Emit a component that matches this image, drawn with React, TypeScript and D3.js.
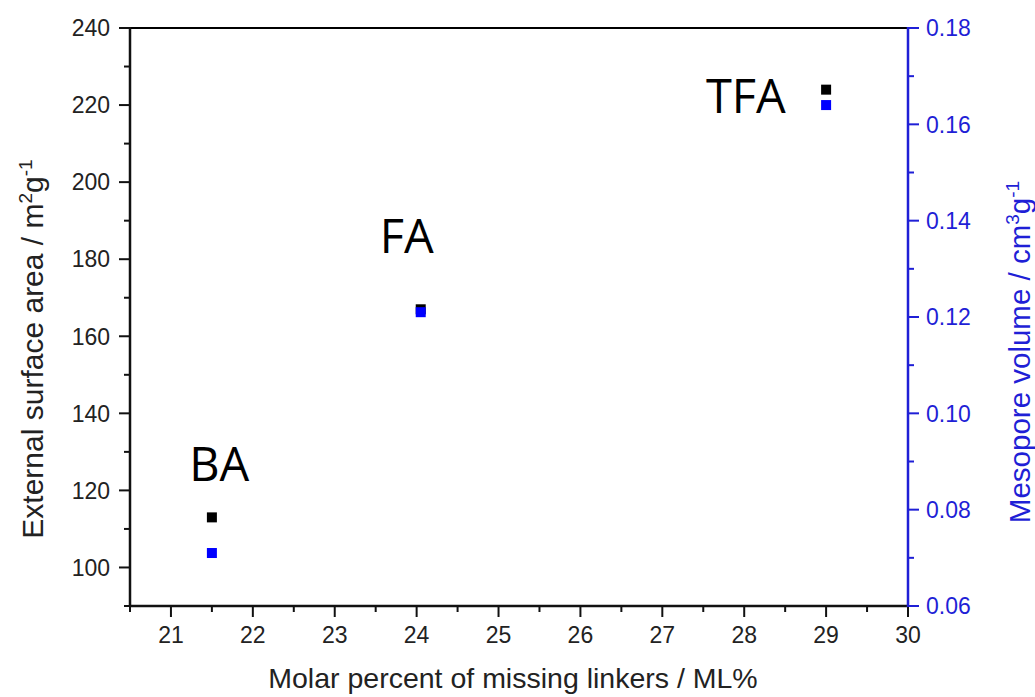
import React from "react";
import * as d3 from "d3";

const samples = ["BA", "FA", "TFA"];
const missingLinkers = [21.5, 24.05, 29.0];
const surfaceArea = [113, 167, 224];
const mesoporeVolume = [0.071, 0.121, 0.164];
const xTicks = [21, 22, 23, 24, 25, 26, 27, 28, 29, 30];
const yLeftTicks = [100, 120, 140, 160, 180, 200, 220, 240];
const yRightTicks = [0.06, 0.08, 0.1, 0.12, 0.14, 0.16, 0.18];
const labelPos = [
  { x: 21.59, y: 122.4 },
  { x: 23.88, y: 181.6 },
  { x: 28.02, y: 217.9 },
];

export default function App() {
  const W = 1035, H = 697;
  const L = 130, R = 908, T = 28, B = 606;
  const x = d3.scaleLinear().domain([20.5, 30]).range([L, R]);
  const yL = d3.scaleLinear().domain([90, 240]).range([B, T]);
  const yR = d3.scaleLinear().domain([0.06, 0.18]).range([B, T]);
  const blue = "#0000ff";
  const axisBlue = "#1f1fd6";
  const font = "'Liberation Sans', Arial, sans-serif";
  const xMinor = d3.range(20.5, 30.01, 0.5).filter((v) => Math.abs(v - Math.round(v)) > 0.1);
  const yLMinor = d3.range(90, 240, 10).filter((v) => v % 20 !== 0);
  const yRMinor = d3.range(0.07, 0.18, 0.02);
  const ms = 10;
  return (
    <svg width={W} height={H} style={{ position: "absolute", left: 0, top: 0, background: "#fff" }} fontFamily={font}>
      <rect x={0} y={0} width={W} height={H} fill="#fff" />
      {/* top frame */}
      <line x1={L} x2={R} y1={T} y2={T} stroke="#000" strokeWidth={2} />
      {/* left axis */}
      <line x1={L} x2={L} y1={T - 1} y2={B + 1} stroke="#111" strokeWidth={2.5} />
      {yLeftTicks.map((v) => (
        <g key={"yl" + v}>
          <line x1={L - 11} x2={L} y1={yL(v)} y2={yL(v)} stroke="#111" strokeWidth={2} />
          <text x={L - 20} y={yL(v)} dy="0.36em" textAnchor="end" fontSize={23} fill="#222">{v}</text>
        </g>
      ))}
      {yLMinor.map((v) => (
        <line key={"ylm" + v} x1={L - 6} x2={L} y1={yL(v)} y2={yL(v)} stroke="#111" strokeWidth={2} />
      ))}
      {/* bottom axis */}
      <line x1={L - 1} x2={R + 1} y1={B} y2={B} stroke="#111" strokeWidth={2.5} />
      {xTicks.map((v) => (
        <g key={"x" + v}>
          <line x1={x(v)} x2={x(v)} y1={B} y2={B + 11} stroke="#111" strokeWidth={2} />
          <text x={x(v)} y={B + 37} textAnchor="middle" fontSize={23} fill="#222">{v}</text>
        </g>
      ))}
      {xMinor.map((v) => (
        <line key={"xm" + v} x1={x(v)} x2={x(v)} y1={B} y2={B + 6} stroke="#111" strokeWidth={2} />
      ))}
      {/* right axis */}
      <line x1={R} x2={R} y1={T - 1} y2={B + 1} stroke={axisBlue} strokeWidth={2.5} />
      {yRightTicks.map((v) => (
        <g key={"yr" + v}>
          <line x1={R} x2={R + 11} y1={yR(v)} y2={yR(v)} stroke={axisBlue} strokeWidth={2} />
          <text x={R + 18} y={yR(v)} dy="0.36em" textAnchor="start" fontSize={23} fill={axisBlue}>{v.toFixed(2)}</text>
        </g>
      ))}
      {yRMinor.map((v) => (
        <line key={"yrm" + v} x1={R} x2={R + 6} y1={yR(v)} y2={yR(v)} stroke={axisBlue} strokeWidth={2} />
      ))}
      {/* markers */}
      {samples.map((s, i) => (
        <rect key={"b" + s} x={x(missingLinkers[i]) - ms / 2} y={yL(surfaceArea[i]) - ms / 2} width={ms} height={ms} fill="#000" />
      ))}
      {samples.map((s, i) => (
        <rect key={"u" + s} x={x(missingLinkers[i]) - ms / 2} y={yR(mesoporeVolume[i]) - ms / 2} width={ms} height={ms} fill={blue} />
      ))}
      {/* sample labels */}
      {samples.map((s, i) => (
        <text key={"l" + s} x={x(labelPos[i].x)} y={yL(labelPos[i].y)} textAnchor="middle" fontSize={47} fill="#000" fontFamily="'Open Sans', 'Liberation Sans', sans-serif">{s}</text>
      ))}
      {/* axis titles */}
      <text x={513} y={688} textAnchor="middle" fontSize={28.5} fill="#222">Molar percent of missing linkers / ML%</text>
      <text transform={`translate(43, 349) rotate(-90)`} textAnchor="middle" fontSize={30} fill="#222">
        External surface area / m<tspan dy={-11} fontSize={19}>2</tspan><tspan dy={11}>g</tspan><tspan dy={-11} fontSize={19}>-1</tspan>
      </text>
      <text transform={`translate(1030, 352) rotate(-90)`} textAnchor="middle" fontSize={29.5} fill={axisBlue}>
        Mesopore volume / cm<tspan dy={-11} fontSize={19}>3</tspan><tspan dy={11}>g</tspan><tspan dy={-11} fontSize={19}>-1</tspan>
      </text>
    </svg>
  );
}
